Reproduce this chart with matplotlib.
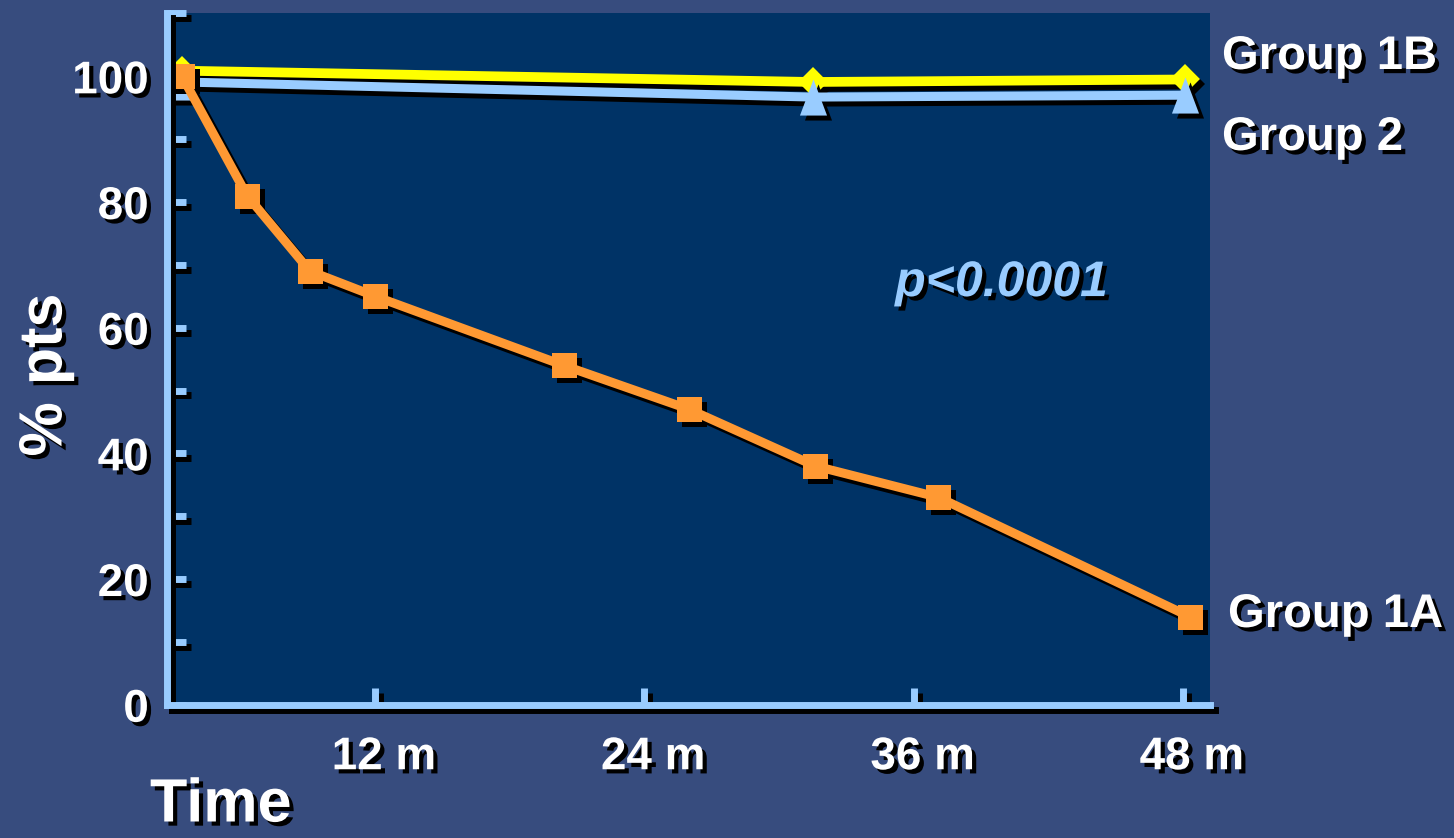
import matplotlib.pyplot as plt
import matplotlib.patheffects as pe
from matplotlib.transforms import ScaledTranslation

# follow-up time (months) and % of patients per group
months_1a = [3.4, 6.3, 9.1, 12.0, 20.4, 26.0, 31.6, 37.1, 48.3]
group_1a = [100, 81, 69, 65, 54, 47, 38, 33, 14]
months_1b = [3.4, 31.5, 48.1]
group_1b = [100.9, 99.1, 99.5]
months_2 = [3.4, 31.5, 48.1]
group_2 = [99.1, 96.7, 97.0]

x_ticks = [12, 24, 36, 48]
x_labels = ['12 m', '24 m', '36 m', '48 m']
y_ticks = [0, 20, 40, 60, 80, 100]
y_minor = [10, 30, 50, 70, 90, 110]

BG = '#374C7E'
NAVY = '#003366'
LIGHT = '#99CCFF'
ORANGE = '#FF9933'
YELLOW = '#FFFF00'

plt.rcParams['font.family'] = ['Liberation Sans', 'DejaVu Sans']
plt.rcParams['font.weight'] = 'bold'

text_shadow = [pe.withSimplePatchShadow(offset=(3, -3), shadow_rgbFace='black', alpha=1)]
line_shadow = [pe.SimpleLineShadow(offset=(3.5, -3.5), shadow_color='black', alpha=1), pe.Normal()]

fig = plt.figure(figsize=(14.54, 8.38), dpi=100, facecolor=BG)
ax = fig.add_axes([167 / 1454, 1 - 704.7 / 838, (1210 - 167) / 1454, (704.7 - 13.5) / 838])
ax.set_facecolor(NAVY)
ax.set_xlim(2.73, 49.2)
ax.set_ylim(0, 110)

shift = ScaledTranslation(3.6 / 72, -3.6 / 72, fig.dpi_scale_trans)
tri = [(-0.75, -1), (0.75, -1), (0, 1)]


def draw_series(x, y, color, lw, marker, ms):
    # black drop shadow first, then the coloured series on top
    ax.plot(x, y, color='black', lw=lw, marker=marker, ms=ms, mew=0,
            transform=ax.transData + shift, solid_joinstyle='miter', clip_on=False)
    ax.plot(x, y, color=color, lw=lw, marker=marker, ms=ms, mew=0,
            solid_joinstyle='miter', clip_on=False)


draw_series(months_1b, group_1b, YELLOW, 7, 'D', 15)
draw_series(months_2, group_2, LIGHT, 6.5, tri, 26)
draw_series(months_1a, group_1a, ORANGE, 6.5, 's', 18)

for side in ['top', 'right']:
    ax.spines[side].set_visible(False)
for side in ['left', 'bottom']:
    ax.spines[side].set_color(LIGHT)
    ax.spines[side].set_linewidth(5)
    ax.spines[side].set_path_effects(line_shadow)

ax.set_xticks(x_ticks)
ax.set_xticklabels(x_labels)
ax.set_yticks(y_ticks)
ax.set_yticks(y_minor, minor=True)
ax.tick_params(axis='both', which='both', direction='in', color=LIGHT,
               labelcolor='white', labelsize=33)
ax.tick_params(axis='y', which='both', length=14, width=5, pad=13)
ax.tick_params(axis='x', which='both', length=12, width=5, pad=22)

ticks = (ax.xaxis.get_major_ticks() + ax.yaxis.get_major_ticks()
         + ax.yaxis.get_minor_ticks())
for t in ticks:
    t.tick1line.set_path_effects(line_shadow)

label_shift = ScaledTranslation(9 / 100, 0, fig.dpi_scale_trans)
for lbl in ax.get_xticklabels():
    lbl.set_path_effects(text_shadow)
    lbl.set_transform(lbl.get_transform() + label_shift)
for lbl in ax.get_yticklabels():
    lbl.set_path_effects(text_shadow)

fig.text(150 / 1454, 1 - 806 / 838, 'Time', color='white', fontsize=44,
         ha='left', va='center', path_effects=text_shadow)
fig.text(46 / 1454, 1 - 375 / 838, '% pts', color='white', fontsize=44,
         rotation=90, ha='center', va='center', path_effects=text_shadow)

fig.text(1222 / 1454, 1 - 57 / 838, 'Group 1B', color='white', fontsize=34,
         ha='left', va='center', path_effects=text_shadow)
fig.text(1222 / 1454, 1 - 138 / 838, 'Group 2', color='white', fontsize=34,
         ha='left', va='center', path_effects=text_shadow)
fig.text(1228 / 1454, 1 - 615 / 838, 'Group 1A', color='white', fontsize=34,
         ha='left', va='center', path_effects=text_shadow)

ax.text(0.80, 0.61, 'p<0.0001', transform=ax.transAxes, color=LIGHT,
        fontsize=36, style='italic', ha='center', va='center',
        path_effects=text_shadow)

fig.savefig('out.png', dpi=100, facecolor=BG)
